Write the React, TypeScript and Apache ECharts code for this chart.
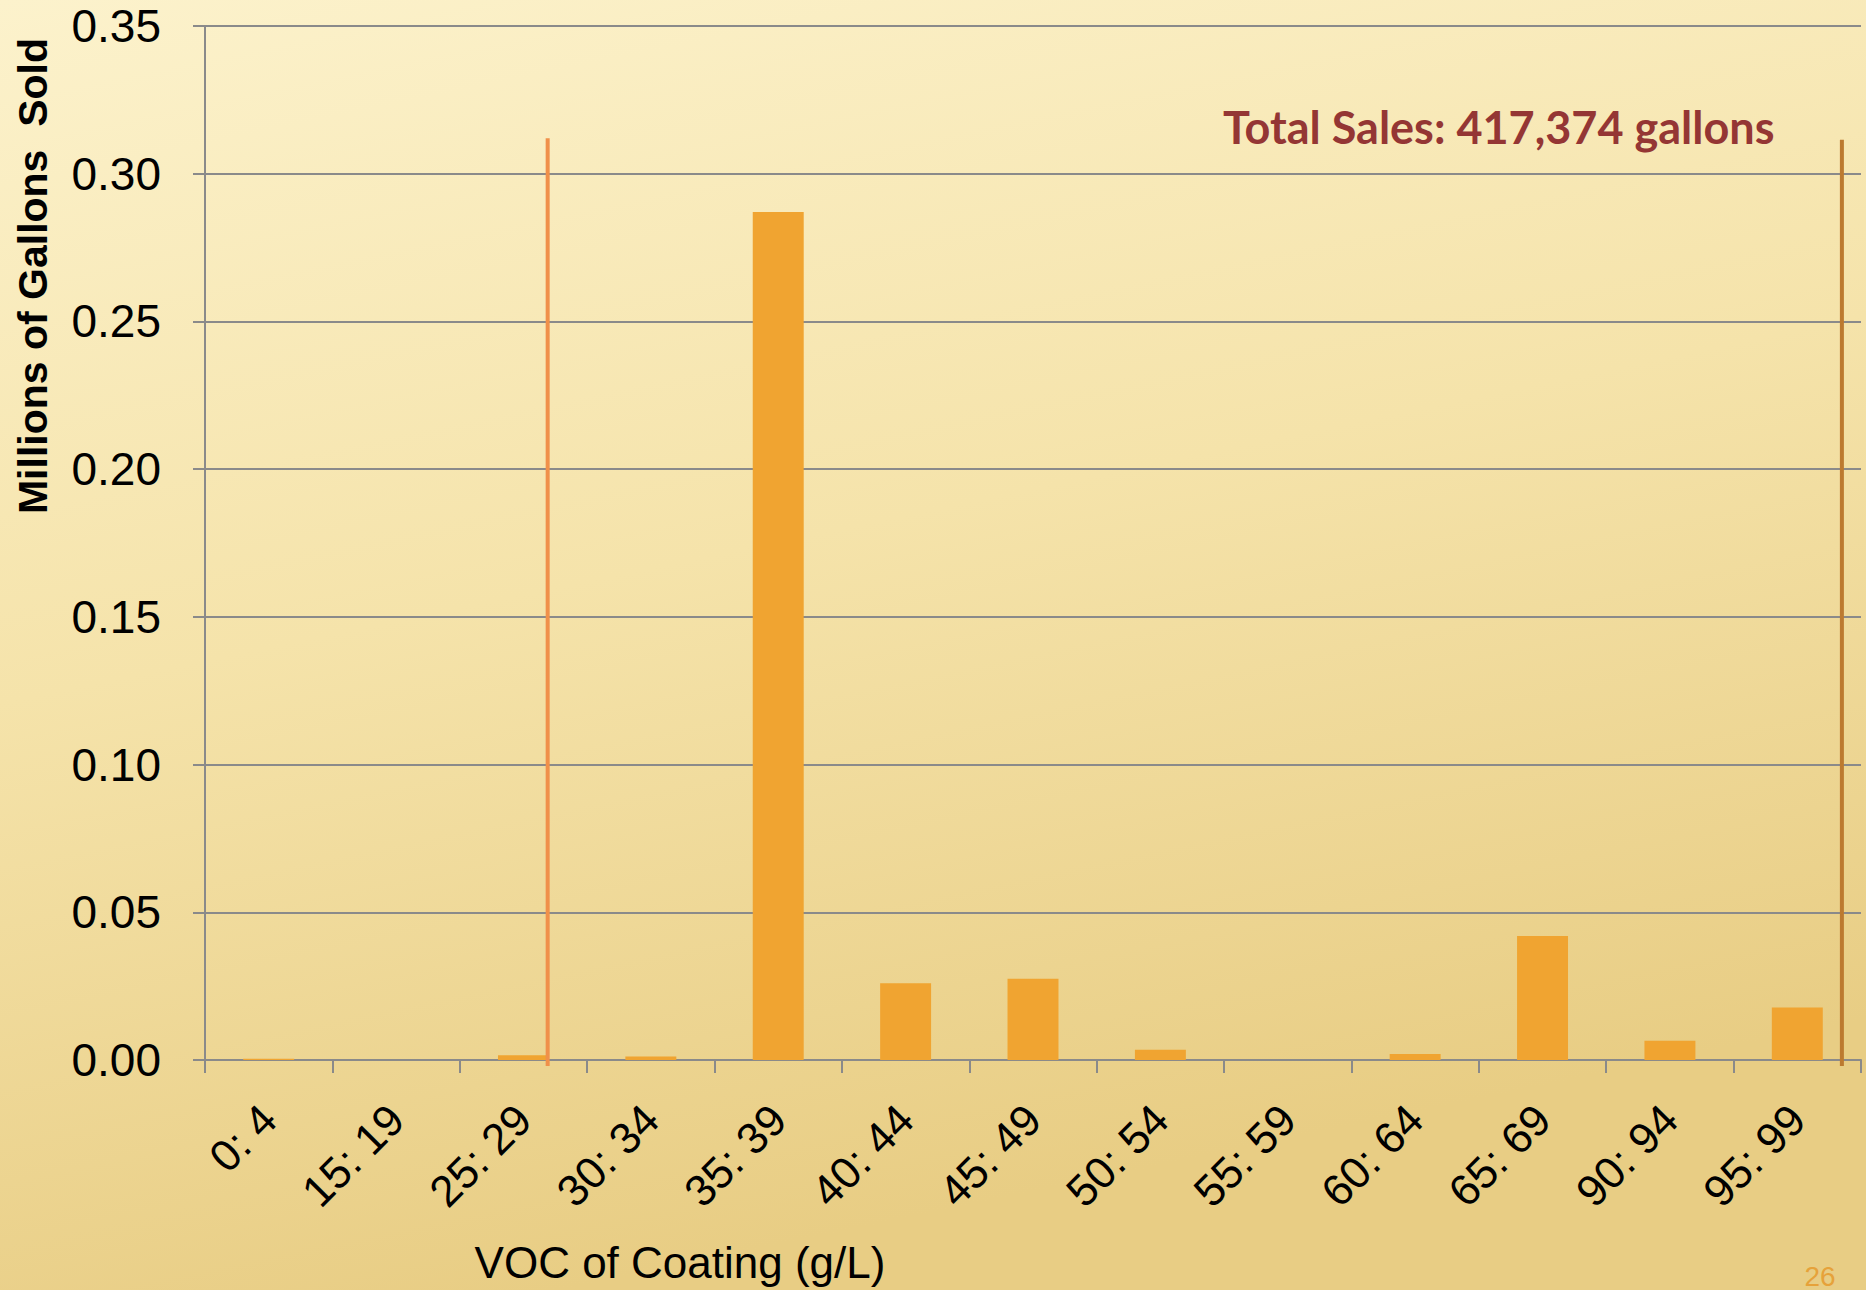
import React, { useEffect, useRef } from "react";
import * as echarts from "echarts";

const categories = ["0: 4", "15: 19", "25: 29", "30: 34", "35: 39", "40: 44", "45: 49", "50: 54", "55: 59", "60: 64", "65: 69", "90: 94", "95: 99"];
const gallonsSold = [0.0004, 0, 0.0016, 0.0012, 0.287, 0.026, 0.0275, 0.0035, 0, 0.002, 0.042, 0.0065, 0.0178];
const yTicks = { min: 0, max: 0.35, interval: 0.05 };
// reference lines in category-boundary units (0 = left edge, 13 = right edge)
const orangeLine = [[2.69, -0.002], [2.69, 0.312]];
const brownLine = [[12.85, -0.002], [12.85, 0.3115]];
const titleText = "Total Sales: 417,374 gallons";
const yName = "Millions of Gallons  Sold";
const xName = "VOC of Coating (g/L)";
const pageNo = "26";

export default function App() {
  const ref = useRef<HTMLDivElement>(null);
  useEffect(() => {
    document.body.style.margin = "0";
    const chart = echarts.init(ref.current!, null, { renderer: "svg" });
    const sans = '"Liberation Sans", Arial, sans-serif';
    chart.setOption({
      animation: false,
      backgroundColor: {
        type: "linear", x: 0, y: 0, x2: 0.3, y2: 1,
        colorStops: [
          { offset: 0, color: "#FCF2CC" },
          { offset: 0.5, color: "#F5E3AA" },
          { offset: 1, color: "#E8CD84" },
        ],
      },
      grid: { left: 205, right: 5, top: 26, bottom: 230 },
      xAxis: [
        {
          type: "category",
          data: categories,
          axisLine: { show: true, lineStyle: { color: "#8A8A8A", width: 2 } },
          axisTick: { show: true, length: 13, lineStyle: { color: "#8A8A8A", width: 2 } },
          axisLabel: { rotate: 45, fontSize: 44, fontFamily: sans, color: "#000", margin: 52 },
          splitLine: { show: false },
        },
        { type: "value", min: 0, max: 13, show: false },
      ],
      yAxis: {
        type: "value",
        min: yTicks.min,
        max: yTicks.max,
        interval: yTicks.interval,
        axisLine: { show: true, lineStyle: { color: "#8A8A8A", width: 2 } },
        axisTick: { show: true, length: 12, lineStyle: { color: "#8A8A8A", width: 2 } },
        axisLabel: {
          fontSize: 46, fontFamily: sans, color: "#000", margin: 44,
          formatter: (v: number) => v.toFixed(2),
        },
        splitLine: { show: true, lineStyle: { color: "#8A8A8A", width: 2 } },
      },
      series: [
        {
          type: "bar",
          data: gallonsSold,
          barWidth: "40%",
          itemStyle: { color: "#F0A431" },
        },
        {
          type: "line", xAxisIndex: 1, data: orangeLine, symbol: "none", clip: false,
          lineStyle: { color: "#F0904A", width: 4 },
        },
        {
          type: "line", xAxisIndex: 1, data: brownLine, symbol: "none", clip: false,
          lineStyle: { color: "#BC7A30", width: 4 },
        },
      ],
      graphic: [
        {
          type: "text", x: 33, y: 276, rotation: Math.PI / 2,
          style: { text: yName, font: 'bold 41px ' + sans, fill: "#000", align: "center", verticalAlign: "middle" },
        },
        {
          type: "text", x: 680, y: 1262,
          style: { text: xName, font: '44px ' + sans, fill: "#000", align: "center", verticalAlign: "middle" },
        },
        {
          type: "text", x: 1223, y: 127,
          style: { text: titleText, font: 'bold 45px Lato, "Open Sans", sans-serif', fill: "#943634", align: "left", verticalAlign: "middle" },
        },
        {
          type: "text", x: 1820, y: 1262,
          style: { text: pageNo, font: '28px ' + sans, fill: "#E6A23A", align: "center", verticalAlign: "top" },
        },
      ],
    });
    return () => chart.dispose();
  }, []);
  return <div ref={ref} style={{ position: "fixed", left: 0, top: 0, width: 1866, height: 1290 }} />;
}
